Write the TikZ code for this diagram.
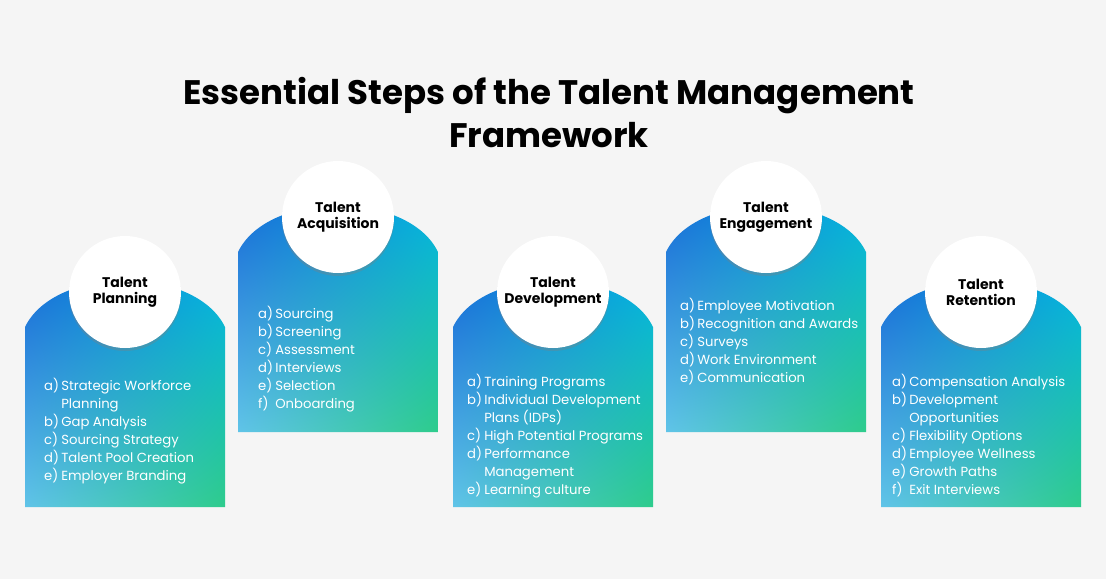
\documentclass[tikz,border=0pt]{standalone}
\usepackage{fontspec}
\setmainfont{Poppins}
\usetikzlibrary{shadows,shadings}
\definecolor{bgcol}{RGB}{245,245,245}
\definecolor{deepblue}{RGB}{18,102,214}
\definecolor{skyblue}{RGB}{0,178,230}
\definecolor{paleblue}{RGB}{96,196,232}
\definecolor{mint}{RGB}{46,204,140}
\newcommand{\card}[2]{% x of left edge, y of shoulder
  \shade[upper left=deepblue, upper right=skyblue, lower left=paleblue, lower right=mint]
    (#1,#2) .. controls (#1+30,#2-62) and (#1+170,#2-62) .. (#1+200,#2)
    -- (#1+200,#2+180) -- (#1,#2+180) -- cycle;}

\begin{document}
\begin{tikzpicture}[
    x=1pt, y=-1pt,
    badge/.style={circle, fill=white, minimum size=112pt, inner sep=0pt, align=center,
      font=\fontsize{14}{16}\selectfont\bfseries,
      drop shadow={opacity=0.35, shadow xshift=0pt, shadow yshift=-3pt}},
    steps/.style={anchor=base west, inner sep=0pt, text=white, font=\fontsize{13.2}{18}\selectfont}
]
    \fill[bgcol] (0,0) rectangle (1106,579);
    \node[font=\fontsize{34}{43}\selectfont\bfseries, align=center] (title) at (549,113)
      {Essential Steps of the Talent Management\\Framework};

    \card{25}{327}
    \card{238}{252}
    \card{453}{327}
    \card{666}{252}
    \card{881}{327}

    \node[badge] (plan) at (125,292) {Talent\\Planning};
    \node[badge] (acq) at (338,217) {Talent\\Acquisition};
    \node[badge] (dev) at (553,292) {Talent\\Development};
    \node[badge] (eng) at (766,217) {Talent\\Engagement};
    \node[badge] (ret) at (981,292) {Talent\\Retention};

    \node[steps] (planlist) at (44,390) {\begin{tabular}[t]{@{}l@{\,}l@{}}
      a) & Strategic Workforce\\ & Planning\\ b) & Gap Analysis\\ c) & Sourcing Strategy\\
      d) & Talent Pool Creation\\ e) & Employer Branding\end{tabular}};
    \node[steps] (acqlist) at (258,318) {\begin{tabular}[t]{@{}l@{\,}l@{}}
      a) & Sourcing\\ b) & Screening\\ c) & Assessment\\ d) & Interviews\\
      e) & Selection\\ f) & Onboarding\end{tabular}};
    \node[steps] (devlist) at (467,386) {\begin{tabular}[t]{@{}l@{\,}l@{}}
      a) & Training Programs\\ b) & Individual Development\\ & Plans (IDPs)\\
      c) & High Potential Programs\\ d) & Performance\\ & Management\\
      e) & Learning culture\end{tabular}};
    \node[steps] (englist) at (680,310) {\begin{tabular}[t]{@{}l@{\,}l@{}}
      a) & Employee Motivation\\ b) & Recognition and Awards\\ c) & Surveys\\
      d) & Work Environment\\ e) & Communication\end{tabular}};
    \node[steps] (retlist) at (892,386) {\begin{tabular}[t]{@{}l@{\,}l@{}}
      a) & Compensation Analysis\\ b) & Development\\ & Opportunities\\
      c) & Flexibility Options\\ d) & Employee Wellness\\ e) & Growth Paths\\
      f) & Exit Interviews\end{tabular}};
\end{tikzpicture}
\end{document}
